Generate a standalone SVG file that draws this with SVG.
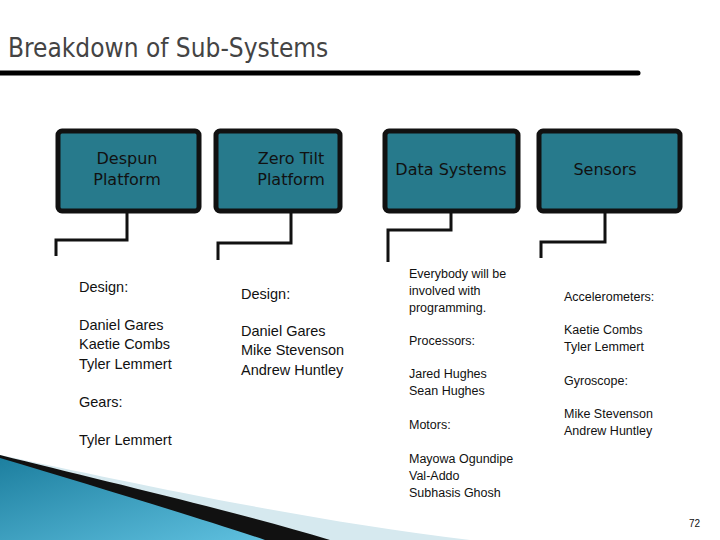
<svg xmlns="http://www.w3.org/2000/svg" width="720" height="540" viewBox="0 0 720 540">
<defs>
<style>
.box{fill:#277a8c;stroke:#111;stroke-width:5}
.bt{font-family:"DejaVu Sans",sans-serif;font-size:16px;fill:#111;text-anchor:middle}
.c{fill:none;stroke:#111;stroke-width:3}
.t{font-family:"Liberation Sans",Arial,sans-serif;font-size:14.5px;fill:#111}
.s{font-family:"Liberation Sans",Arial,sans-serif;font-size:12.5px;fill:#111}
</style>
<linearGradient id="g" x1="0" y1="0" x2="1" y2="1">
<stop offset="0" stop-color="#1d7f9f"/><stop offset="1" stop-color="#5fc0df"/>
</linearGradient>
</defs>
<rect width="720" height="540" fill="#fff"/>
<text x="8" y="57" font-family="DejaVu Sans Condensed,DejaVu Sans,sans-serif" font-size="26" fill="#444" font-stretch="condensed">Breakdown of Sub-Systems</text>
<path d="M0 73 H638" stroke="#000" stroke-width="5" stroke-linecap="round"/>
<g id="swoosh">
<path d="M0 455 C120 480 300 520 470 540 L0 540 Z" fill="#d6e9ef"/>
<path d="M0 455 C100 480 230 510 330 540 L0 540 Z" fill="#111"/>
<path d="M0 458 C90 485 190 515 265 540 L0 540 Z" fill="url(#g)"/>
</g>
<g id="connectors">
<path class="c" d="M127 211 V240 H56 V256"/>
<path class="c" d="M291 211 V243 H218 V260"/>
<path class="c" d="M451 211 V230 H388 V262"/>
<path class="c" d="M605 211 V242 H541 V258"/>
</g>
<g id="despun"><rect class="box" x="58" y="131" width="141" height="80" rx="4"/><text class="bt" x="127" y="164">Despun</text><text class="bt" x="127" y="185">Platform</text></g>
<g id="zerotilt"><rect class="box" x="216" y="131" width="124" height="80" rx="4"/><text class="bt" x="291" y="164">Zero Tilt</text><text class="bt" x="291" y="185">Platform</text></g>
<g id="data"><rect class="box" x="385" y="131" width="133" height="80" rx="4"/><text class="bt" x="451" y="175">Data Systems</text></g>
<g id="sensors"><rect class="box" x="539" y="131" width="141" height="80" rx="4"/><text class="bt" x="605" y="175">Sensors</text></g>
<g id="despun-text" class="t">
<text x="79" y="292">Design:</text>
<text x="79" y="330">Daniel Gares</text><text x="79" y="349">Kaetie Combs</text><text x="79" y="369">Tyler Lemmert</text>
<text x="79" y="407">Gears:</text>
<text x="79" y="445">Tyler Lemmert</text>
</g>
<g id="zerotilt-text" class="t">
<text x="241" y="299">Design:</text>
<text x="241" y="336">Daniel Gares</text><text x="241" y="355">Mike Stevenson</text><text x="241" y="375">Andrew Huntley</text>
</g>
<g id="data-text" class="s">
<text x="409" y="278">Everybody will be</text><text x="409" y="295">involved with</text><text x="409" y="312">programming.</text>
<text x="409" y="345">Processors:</text>
<text x="409" y="378">Jared Hughes</text><text x="409" y="395">Sean Hughes</text>
<text x="409" y="429">Motors:</text>
<text x="409" y="463">Mayowa Ogundipe</text><text x="409" y="480">Val-Addo</text><text x="409" y="497">Subhasis Ghosh</text>
</g>
<g id="sensors-text" class="s">
<text x="564" y="301">Accelerometers:</text>
<text x="564" y="334">Kaetie Combs</text><text x="564" y="351">Tyler Lemmert</text>
<text x="564" y="385">Gyroscope:</text>
<text x="564" y="418">Mike Stevenson</text><text x="564" y="435">Andrew Huntley</text>
</g>
<text x="689" y="527" font-family="Liberation Sans,sans-serif" font-size="10" fill="#111">72</text>
</svg>
